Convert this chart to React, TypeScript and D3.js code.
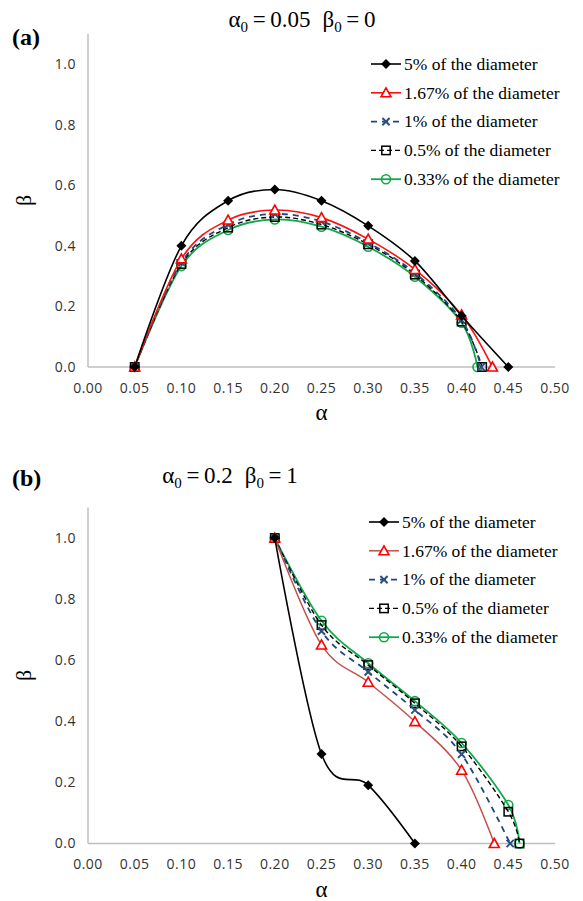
import React from "react";
import * as d3 from "d3";

const W = 583;
const H = 901;

const xTicks = [0, 0.05, 0.1, 0.15, 0.2, 0.25, 0.3, 0.35, 0.4, 0.45, 0.5];
const yTicks = [0, 0.2, 0.4, 0.6, 0.8, 1.0];
const seriesNames = [
  "5% of the diameter",
  "1.67% of the diameter",
  "1% of the diameter",
  "0.5% of the diameter",
  "0.33% of the diameter",
];

// Panel (a): alpha0 = 0.05, beta0 = 0
const a5Alpha = [0.05, 0.1, 0.15, 0.2, 0.25, 0.3, 0.35, 0.4, 0.45];
const a5Beta = [0, 0.4, 0.549, 0.586, 0.549, 0.466, 0.35, 0.169, 0];
const a167Alpha = [0.05, 0.1, 0.15, 0.2, 0.25, 0.3, 0.35, 0.4, 0.433];
const a167Beta = [0, 0.357, 0.485, 0.518, 0.493, 0.422, 0.322, 0.172, 0];
const a1Alpha = [0.05, 0.1, 0.15, 0.2, 0.25, 0.3, 0.35, 0.4, 0.421];
const a1Beta = [0, 0.345, 0.47, 0.505, 0.48, 0.41, 0.31, 0.155, 0];
const a05Alpha = [0.05, 0.1, 0.15, 0.2, 0.25, 0.3, 0.35, 0.4, 0.422];
const a05Beta = [0, 0.34, 0.46, 0.495, 0.47, 0.405, 0.305, 0.15, 0];
const a033Alpha = [0.05, 0.1, 0.15, 0.2, 0.25, 0.3, 0.35, 0.4, 0.417];
const a033Beta = [0, 0.333, 0.452, 0.487, 0.463, 0.397, 0.298, 0.146, 0];

// Panel (b): alpha0 = 0.2, beta0 = 1
const b5Alpha = [0.2, 0.25, 0.3, 0.35];
const b5Beta = [1.0, 0.293, 0.191, 0];
const b167Alpha = [0.2, 0.25, 0.3, 0.35, 0.4, 0.435];
const b167Beta = [1.0, 0.65, 0.528, 0.399, 0.24, 0];
const b1Alpha = [0.2, 0.25, 0.3, 0.35, 0.4, 0.452];
const b1Beta = [1.0, 0.695, 0.562, 0.437, 0.292, 0];
const b05Alpha = [0.2, 0.25, 0.3, 0.35, 0.4, 0.45, 0.462];
const b05Beta = [1.0, 0.715, 0.584, 0.459, 0.318, 0.104, 0];
const b033Alpha = [0.2, 0.25, 0.3, 0.35, 0.4, 0.45, 0.462];
const b033Beta = [1.0, 0.729, 0.59, 0.466, 0.329, 0.126, 0];

type Style = {
  stroke: string;
  legendStroke: string;
  marker: string;
  markerColor: string;
  dash?: string;
  width: number;
};

const stylesA: Style[] = [
  { stroke: "#000000", legendStroke: "#000000", marker: "diamond", markerColor: "#000000", width: 1.6 },
  { stroke: "#ff1010", legendStroke: "#ff1010", marker: "triangle", markerColor: "#ff0000", width: 1.6 },
  { stroke: "#1f497d", legendStroke: "#1f497d", marker: "x", markerColor: "#2c4f80", dash: "6,5", width: 1.8 },
  { stroke: "#000000", legendStroke: "#000000", marker: "square", markerColor: "#000000", dash: "5,3", width: 1.4 },
  { stroke: "#10a84a", legendStroke: "#10a84a", marker: "circle", markerColor: "#10a84a", width: 1.8 },
];
const stylesB: Style[] = [
  { stroke: "#000000", legendStroke: "#000000", marker: "diamond", markerColor: "#000000", width: 1.6 },
  { stroke: "#c0504d", legendStroke: "#c0504d", marker: "triangle", markerColor: "#ff0000", width: 1.5 },
  { stroke: "#1f497d", legendStroke: "#1f497d", marker: "x", markerColor: "#2c4f80", dash: "6,5", width: 1.8 },
  { stroke: "#000000", legendStroke: "#000000", marker: "square", markerColor: "#000000", dash: "5,3", width: 1.4 },
  { stroke: "#10a84a", legendStroke: "#10a84a", marker: "circle", markerColor: "#10a84a", width: 1.8 },
];

function Marker({ kind, x, y, color }: { kind: string; x: number; y: number; color: string }) {
  if (kind === "diamond") {
    const s = 5;
    return <path d={`M${x},${y - s}L${x + s},${y}L${x},${y + s}L${x - s},${y}Z`} fill={color} />;
  }
  if (kind === "triangle") {
    const s = 5;
    return (
      <path
        d={`M${x},${y - s}L${x + s},${y + s * 0.8}L${x - s},${y + s * 0.8}Z`}
        fill="white"
        stroke={color}
        strokeWidth={1.6}
      />
    );
  }
  if (kind === "x") {
    const s = 3.6;
    return (
      <path
        d={`M${x - s},${y - s}L${x + s},${y + s}M${x + s},${y - s}L${x - s},${y + s}`}
        stroke={color}
        strokeWidth={2}
        fill="none"
      />
    );
  }
  if (kind === "square") {
    const s = 4.2;
    return <rect x={x - s} y={y - s} width={2 * s} height={2 * s} fill="none" stroke={color} strokeWidth={1.5} />;
  }
  return <circle cx={x} cy={y} r={4.5} fill="none" stroke={color} strokeWidth={1.6} />;
}

type PanelProps = {
  top: number;
  bottom: number;
  label: string;
  labelY: number;
  titleX: number;
  titleY: number;
  a0: string;
  b0: string;
  series: [number[], number[]][];
  styles: Style[];
  legendY0: number;
  legendDy: number;
  legendX: number;
};

function Panel(p: PanelProps) {
  const x = d3.scaleLinear().domain([0, 0.5]).range([88, 555]);
  const y = d3.scaleLinear().domain([0, 1.1]).range([p.bottom, p.top]);
  const line = d3
    .line<[number, number]>()
    .x((d) => x(d[0]))
    .y((d) => y(d[1]))
    .curve(d3.curveCardinal.tension(0));
  const tickFont = "'Open Sans', sans-serif";
  const serif = "'Liberation Serif', 'Times New Roman', serif";
  return (
    <g>
      <text x={12} y={p.labelY} fontFamily={serif} fontWeight="bold" fontSize={24} fill="#000">
        {p.label}
      </text>
      <text x={p.titleX} y={p.titleY} fontFamily={serif} fontSize={23} textAnchor="middle" fill="#000">
        <tspan>α</tspan>
        <tspan fontSize={15} dy={5}>0</tspan>
        <tspan dy={-5}>{`\u2009=\u2009${p.a0}`}</tspan>
        <tspan dx={12}>β</tspan>
        <tspan fontSize={15} dy={5}>0</tspan>
        <tspan dy={-5}>{`\u2009=\u2009${p.b0}`}</tspan>
      </text>
      <line x1={x(0)} x2={x(0)} y1={y(0)} y2={y(1.1)} stroke="#bfbfbf" strokeWidth={1.5} />
      <line x1={x(0)} x2={x(0.5)} y1={y(0)} y2={y(0)} stroke="#bfbfbf" strokeWidth={1.5} />
      {yTicks.map((t) => (
        <text
          key={"y" + t}
          x={76}
          y={y(t)}
          dy="0.35em"
          textAnchor="end"
          fontFamily={tickFont}
          fontSize={14}
          letterSpacing={0.5}
          fill="#333"
        >
          {t.toFixed(1)}
        </text>
      ))}
      {xTicks.map((t) => (
        <text
          key={"x" + t}
          x={x(t)}
          y={y(0) + 21}
          dy="0.35em"
          textAnchor="middle"
          fontFamily={tickFont}
          fontSize={14}
          letterSpacing={0.5}
          fill="#333"
        >
          {t.toFixed(2)}
        </text>
      ))}
      <text x={x(0.25)} y={y(0) + 53} fontFamily={serif} fontSize={23} textAnchor="middle" fill="#000">
        α
      </text>
      <text
        transform={`translate(31,${(y(0) + y(1.1)) / 2}) rotate(-90)`}
        fontFamily={serif}
        fontSize={22}
        textAnchor="middle"
        fill="#000"
      >
        β
      </text>
      {p.series
        .map((s, i) => ({ s, i }))
        .slice()
        .reverse()
        .map(({ s, i }) => {
          const pts = s[0].map((a, k) => [a, s[1][k]] as [number, number]);
          const st = p.styles[i];
          return (
            <g key={"s" + i}>
              <path
                d={line(pts) || ""}
                fill="none"
                stroke={st.stroke}
                strokeWidth={st.width}
                strokeDasharray={st.dash}
              />
              {pts.map((d, k) => (
                <Marker key={k} kind={st.marker} x={x(d[0])} y={y(d[1])} color={st.markerColor} />
              ))}
            </g>
          );
        })}
      {seriesNames.map((name, i) => {
        const ly = p.legendY0 + i * p.legendDy;
        const st = p.styles[i];
        return (
          <g key={"l" + i}>
            <line
              x1={p.legendX}
              x2={p.legendX + 30}
              y1={ly}
              y2={ly}
              stroke={st.legendStroke}
              strokeWidth={st.width}
              strokeDasharray={st.dash}
            />
            <Marker kind={st.marker} x={p.legendX + 15} y={ly} color={st.markerColor} />
            <text x={p.legendX + 33} y={ly} dy="0.33em" fontFamily={serif} fontSize={17.5} fill="#000">
              {name}
            </text>
          </g>
        );
      })}
    </g>
  );
}

export default function App() {
  const seriesA: [number[], number[]][] = [
    [a5Alpha, a5Beta],
    [a167Alpha, a167Beta],
    [a1Alpha, a1Beta],
    [a05Alpha, a05Beta],
    [a033Alpha, a033Beta],
  ];
  const seriesB: [number[], number[]][] = [
    [b5Alpha, b5Beta],
    [b167Alpha, b167Beta],
    [b1Alpha, b1Beta],
    [b05Alpha, b05Beta],
    [b033Alpha, b033Beta],
  ];
  return (
    <svg
      width={W}
      height={H}
      viewBox={`0 0 ${W} ${H}`}
      style={{ position: "absolute", left: 0, top: 0, background: "#fff" }}
    >
      <rect width={W} height={H} fill="#fff" />
      <Panel
        top={33.7}
        bottom={367}
        label="(a)"
        labelY={45}
        titleX={302}
        titleY={27}
        a0="0.05"
        b0="0"
        series={seriesA}
        styles={stylesA}
        legendY0={64}
        legendDy={28.8}
        legendX={371}
      />
      <Panel
        top={507.5}
        bottom={843.5}
        label="(b)"
        labelY={486}
        titleX={230}
        titleY={483}
        a0="0.2"
        b0="1"
        series={seriesB}
        styles={stylesB}
        legendY0={522}
        legendDy={28.8}
        legendX={369}
      />
    </svg>
  );
}
